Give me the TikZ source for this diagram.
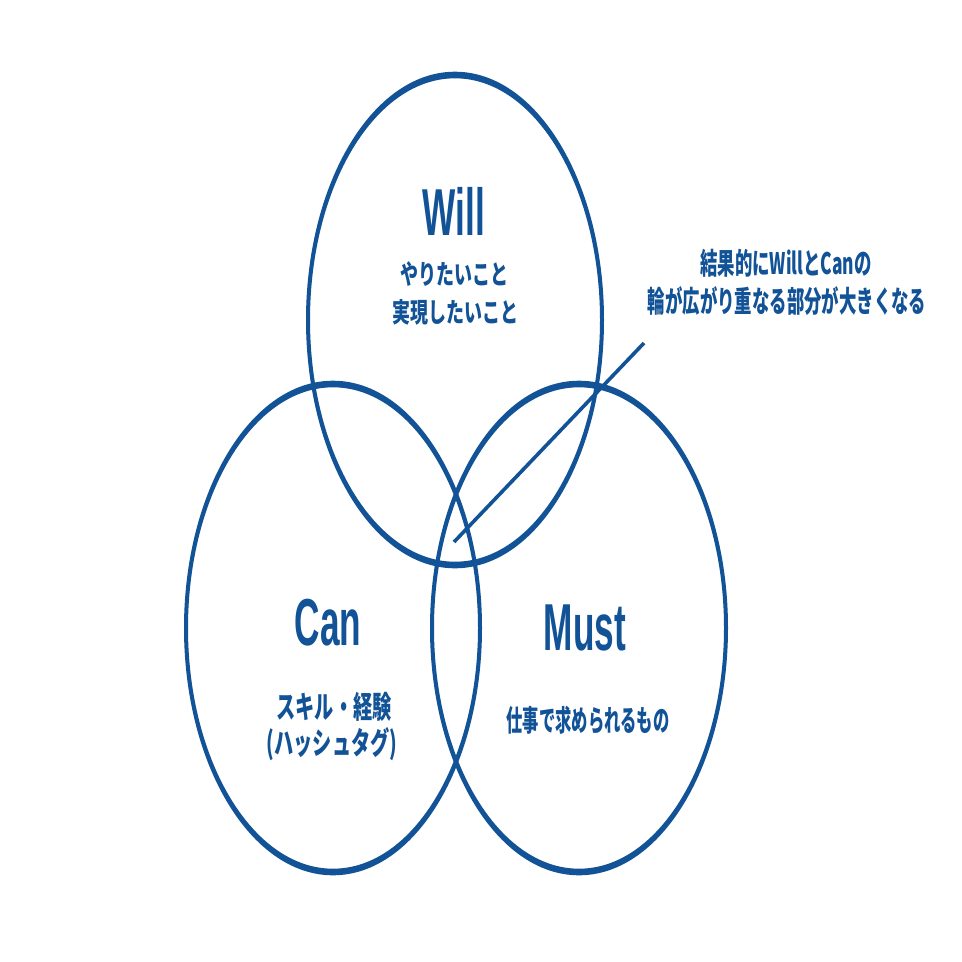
\documentclass[tikz,border=0pt]{standalone}
\usepackage{fontspec}
\newfontfamily\jp{Noto Sans CJK JP}
\newfontfamily\lat{Liberation Sans}
\definecolor{navy}{RGB}{18,82,150}
\tikzset{
  ring/.style={fill=navy, even odd rule},
  title/.style={inner sep=0pt, anchor=base, text=navy, font=\lat\bfseries\fontsize{40}{40}\selectfont, xscale=0.88, yscale=1.66},
  jtext/.style={inner sep=0pt, anchor=center, text=navy},
  pointer/.style={draw=navy, line width=3.6pt}
}
\begin{document}
\begin{tikzpicture}[x=1pt,y=-1pt]
\useasboundingbox[fill=white] (0,0) rectangle (962,962);
% circles (drawn as rings so that the stroke is thicker at top and bottom)
\fill[ring] (455,320) ellipse [x radius=149, y radius=248.3]
            (455,320) ellipse [x radius=145, y radius=241.7];
\fill[ring] (333,628) ellipse [x radius=149, y radius=247.3]
            (333,628) ellipse [x radius=145, y radius=240.7];
\fill[ring] (579,628) ellipse [x radius=149, y radius=247.3]
            (579,628) ellipse [x radius=145, y radius=240.7];
% titles
\node[title] (will) at (454,235) {Will};
\node[title] (can) at (328,645) {Can};
\node[title] (must) at (585,650) {Must};
% sub texts
\node[jtext, font=\jp\bfseries\fontsize{18}{18}\selectfont, yscale=1.5] (w1) at (454,274) {やりたいこと};
\node[jtext, font=\jp\bfseries\fontsize{18}{18}\selectfont, yscale=1.5] (w2) at (455,312) {実現したいこと};
\node[jtext, font=\jp\bfseries\fontsize{19.2}{19.2}\selectfont, yscale=1.6] (c1) at (334,707) {スキル・経験};
\node[jtext, font=\jp\bfseries\fontsize{19.2}{19.2}\selectfont, yscale=1.6] (c2) at (332,744) {(ハッシュタグ)};
\node[jtext, font=\jp\bfseries\fontsize{16.3}{16.3}\selectfont, yscale=1.8] (m1) at (588,720) {仕事で求められるもの};
% annotation
\node[jtext, font=\jp\bfseries\fontsize{17.4}{17.4}\selectfont, yscale=1.7] (a1) at (786,263) {結果的にWillとCanの};
\node[jtext, font=\jp\bfseries\fontsize{17.4}{17.4}\selectfont, yscale=1.7] (a2) at (787,301) {輪が広がり重なる部分が大きくなる};
\coordinate (pA) at (454,542);
\coordinate (pB) at (644,343);
\draw[pointer] (pA) -- (pB);
\end{tikzpicture}
\end{document}
